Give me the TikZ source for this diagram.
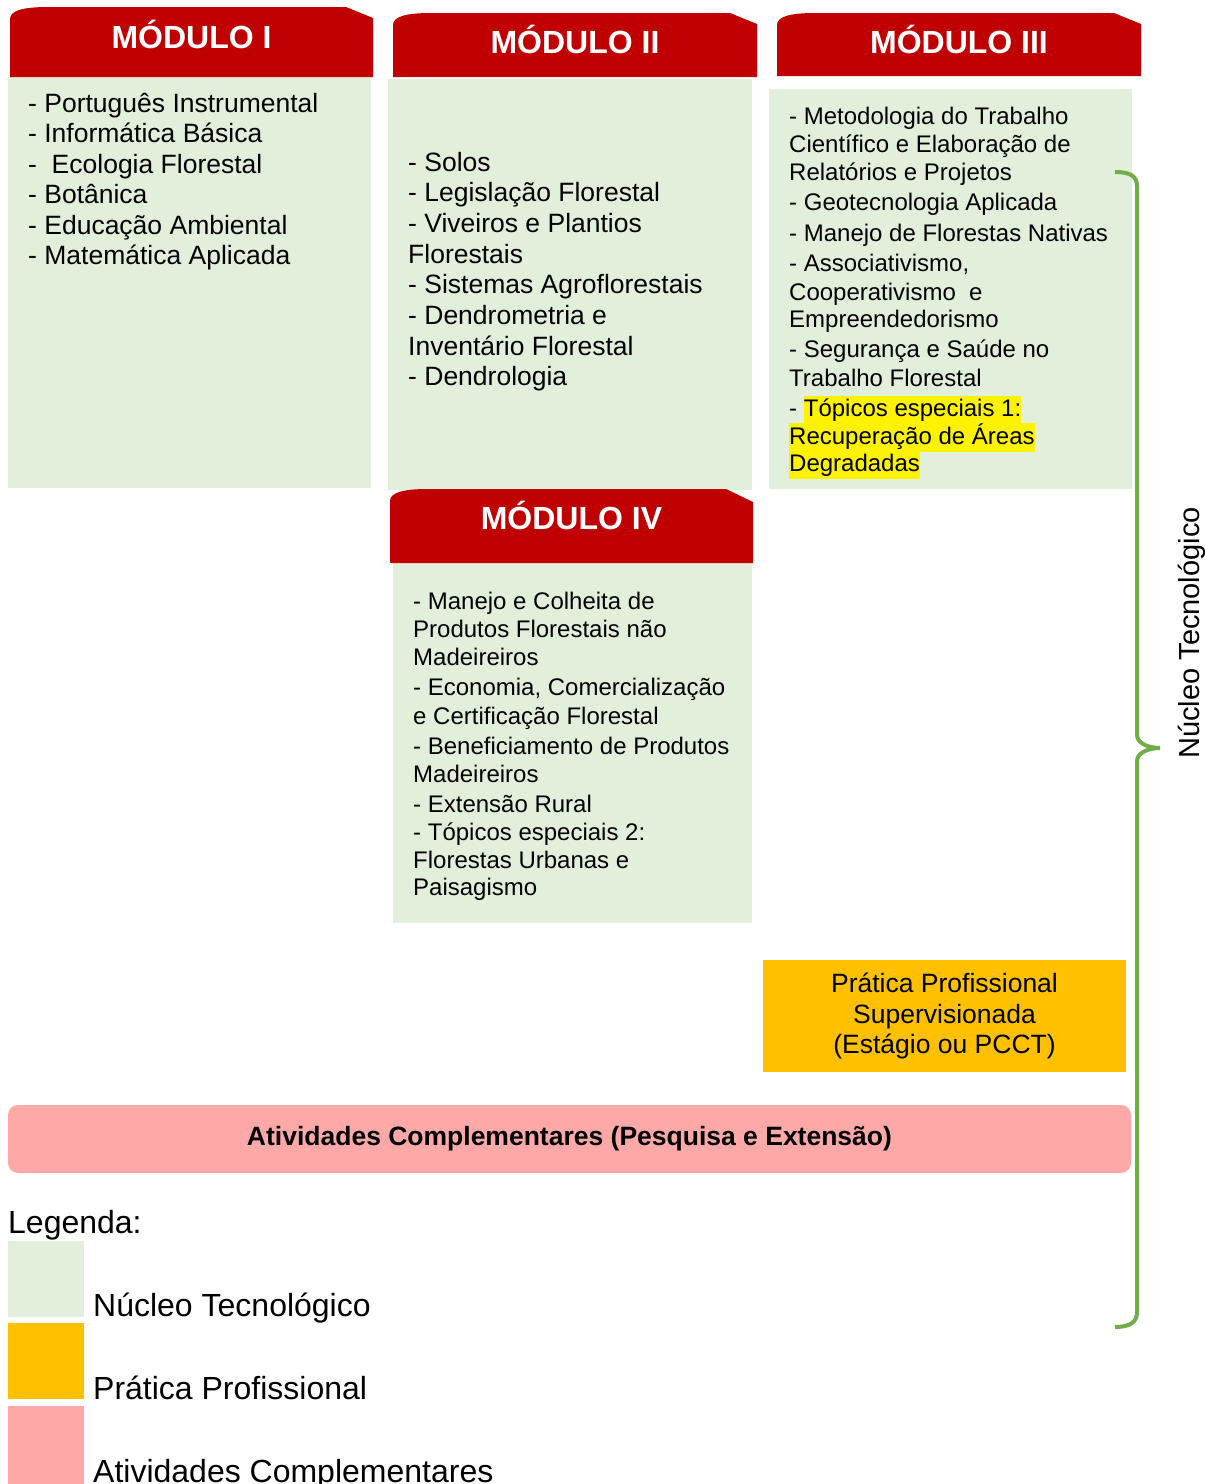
\documentclass[tikz,border=0pt]{standalone}
\usepackage{fontspec}
\setmainfont{Liberation Sans}
\definecolor{modred}{RGB}{192,0,0}
\definecolor{nucleo}{RGB}{226,239,218}
\definecolor{pratica}{RGB}{255,192,0}
\definecolor{ativ}{RGB}{255,168,168}
\definecolor{chave}{RGB}{112,173,71}
\newcommand{\hl}[1]{{\setlength{\fboxsep}{0pt}\colorbox{yellow}{\strut #1}}}
\begin{document}
\begin{tikzpicture}[x=1pt,y=-1pt,
  head/.style={fill=modred},
  headtxt/.style={anchor=base, text=white, inner sep=0, font=\fontsize{32}{37}\selectfont\bfseries},
  item/.style={anchor=base west, inner sep=0, font=\fontsize{26.5}{30.5}\selectfont},
  smallitem/.style={anchor=base west, inner sep=0, font=\fontsize{24}{28}\selectfont},
  legtxt/.style={anchor=base west, inner sep=0, font=\fontsize{32}{38}\selectfont}]
\useasboundingbox (0,0) rectangle (1205,1484);
\fill[white] (0,0) rectangle (1205,1484);
\fill[nucleo] (8,77) rectangle (371,488);
\fill[nucleo] (388,79) rectangle (752,490);
\fill[nucleo] (769,89) rectangle (1132,489);
\fill[nucleo] (393,563) rectangle (752,923);
\foreach \xa/\ya/\xb/\yb/\yd/\i/\nm/\yt in {10/7/373/77/18/1/I/48, 393/13/757/77/24/2/II/53,
    777/13/1141/76/24/3/III/53, 390/489/753/563/502/4/IV/529} {
  \fill[head] (\xa,\yb) -- (\xa,\ya+12) .. controls (\xa,\ya+3) and (\xa+15,\ya) .. (\xa+38,\ya)
    -- (\xb-27,\ya) -- (\xb,\yd) -- (\xb,\yb) -- cycle;
  \node[headtxt] (h\i) at ({(\xa+\xb)/2},\yt) {MÓDULO \nm};
}
\foreach \t [count=\i] in {- Português Instrumental, - Informática Básica, - \ Ecologia Florestal,
    - Botânica, - Educação Ambiental, - Matemática Aplicada}
  \node[item] (a\i) at (28,{112+30.5*(\i-1)}) {\t};
\foreach \t [count=\i] in {- Solos, - Legislação Florestal, - Viveiros e Plantios, Florestais,
    - Sistemas Agroflorestais, - Dendrometria e, Inventário Florestal, - Dendrologia}
  \node[item] (b\i) at (408,{171+30.7*(\i-1)}) {\t};
\foreach \yb/\t [count=\i] in {124/- Metodologia do Trabalho, 152/Científico e Elaboração de,
    180/Relatórios e Projetos, 210/- Geotecnologia Aplicada, 241/- Manejo de Florestas Nativas,
    271/{- Associativismo,}, 300/Cooperativismo \ e, 327/Empreendedorismo,
    357/- Segurança e Saúde no, 386/Trabalho Florestal, 416/- \hl{Tópicos especiais 1:},
    444/\hl{Recuperação de Áreas}, 471/\hl{Degradadas}}
  \node[smallitem] (c\i) at (789,\yb) {\t};
\foreach \yb/\t [count=\i] in {609/- Manejo e Colheita de, 637/Produtos Florestais não,
    665/Madeireiros, 695/{- Economia, Comercialização}, 724/e Certificação Florestal,
    754/- Beneficiamento de Produtos, 782/Madeireiros, 812/- Extensão Rural,
    840/- Tópicos especiais 2:, 868/Florestas Urbanas e, 895/Paisagismo}
  \node[smallitem] (d\i) at (413,\yb) {\t};
\node[fill=pratica, minimum width=363pt, minimum height=112pt, align=center,
  font=\fontsize{26.5}{30.5}\selectfont] (pps) at (944.5,1016)
  {\raisebox{-3pt}{\parbox{300pt}{\centering Prática Profissional\\Supervisionada\\(Estágio ou PCCT)}}};
\node[fill=ativ, rounded corners=10pt, minimum width=1123pt, minimum height=68pt,
  font=\fontsize{26.5}{30.5}\selectfont\bfseries] (ac) at (569.5,1139)
  {\raisebox{2pt}{Atividades Complementares (Pesquisa e Extensão)}};
\draw[chave, line width=4pt] (1115,172) .. controls (1130,172) and (1137,176) .. (1137,186)
  -- (1137,735) .. controls (1137,744) and (1150,748) .. (1160,748)
  .. controls (1150,748) and (1137,752) .. (1137,761) -- (1137,1312)
  .. controls (1137,1322) and (1130,1327) .. (1115,1327);
\node[rotate=90, font=\fontsize{29}{34}\selectfont] (nt) at (1192,633) {Núcleo Tecnológico};
\node[legtxt] (leg) at (8,1233) {Legenda:};
\fill[nucleo] (8,1241) rectangle (84,1317);
\fill[pratica] (8,1323) rectangle (84,1399);
\fill[ativ] (8,1406) rectangle (84,1484);
\node[legtxt] (l1) at (93,1316) {Núcleo Tecnológico};
\node[legtxt] (l2) at (93,1399) {Prática Profissional};
\node[legtxt] (l3) at (93,1482) {Atividades Complementares};
\end{tikzpicture}
\end{document}
